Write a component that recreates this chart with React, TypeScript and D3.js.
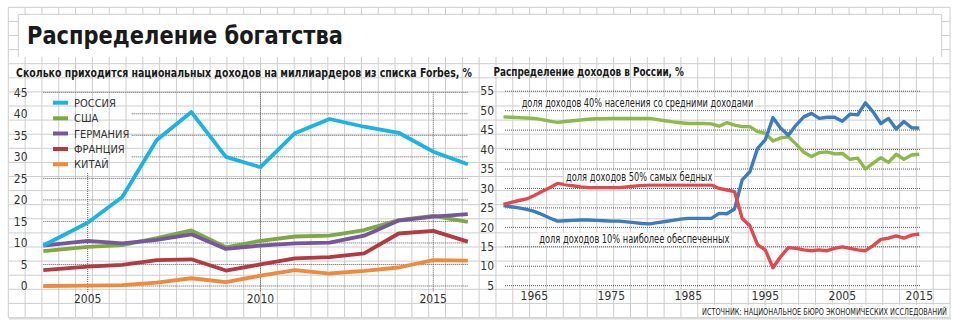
import React from "react";
import * as d3 from "d3";

// ---------- Data ----------
const forbesYears = [2004, 2005, 2006, 2007, 2008, 2009, 2010, 2011, 2012, 2013, 2014, 2015, 2016];
const russia = [9.4, 14.7, 20.7, 33.9, 40.4, 30.0, 27.6, 35.5, 38.8, 37.0, 35.6, 31.2, 28.3];
const usa = [8.1, 9.1, 9.5, 11.1, 12.9, 9.0, 10.5, 11.5, 11.7, 13.0, 15.3, 16.3, 14.9];
const germany = [9.4, 10.5, 9.9, 10.7, 12.0, 8.6, 9.4, 9.9, 10.1, 11.7, 15.2, 16.1, 16.7];
const france = [3.7, 4.5, 4.9, 6.0, 6.2, 3.6, 5.0, 6.4, 6.7, 7.6, 12.2, 12.8, 10.3];
const china = [0.0, 0.1, 0.2, 0.8, 1.8, 0.9, 2.4, 3.7, 2.9, 3.5, 4.3, 6.0, 5.9];
const forbesNames = ["РОССИЯ", "США", "ГЕРМАНИЯ", "ФРАНЦИЯ", "КИТАЙ"];
const forbesColors = ["#1ab3e6", "#7fa843", "#76569f", "#b23a40", "#ef8a3c"];
const leftYTicks = [0, 5, 10, 15, 20, 25, 30, 35, 40, 45];
const leftXTicks = [2005, 2010, 2015];

const incomeYears = d3.range(1961, 2016);
const middle40 = [
  48.4, 48.3, 48.2, 48.1, 48.0, 47.7, 47.3, 47.0, 47.2, 47.4,
  47.6, 47.8, 47.9, 47.9, 48.0, 48.0, 48.0, 48.0, 48.0, 48.0,
  47.7, 47.4, 47.1, 46.9, 46.7, 46.7, 46.7, 46.6, 46.0, 46.9,
  46.3, 45.9, 45.9, 44.6, 44.2, 42.2, 43.0, 43.3, 41.4, 39.3,
  38.2, 39.2, 39.4, 38.9, 39.0, 37.5, 37.8, 35.0, 36.5, 37.9,
  36.7, 38.8, 37.5, 38.6, 38.8,
];
const top10 = [
  25.6, 25.3, 25.0, 24.6, 24.1, 23.3, 22.4, 21.6, 21.7, 21.8,
  21.9, 21.9, 21.8, 21.7, 21.6, 21.6, 21.4, 21.2, 21.0, 20.9,
  21.2, 21.5, 21.8, 22.1, 22.3, 22.3, 22.3, 22.3, 23.6, 23.5,
  24.7, 32.2, 34.3, 40.3, 42.5, 48.2, 45.5, 43.7, 46.3, 48.4,
  49.3, 48.0, 48.3, 48.3, 47.3, 49.1, 48.9, 52.0, 49.7, 46.7,
  48.0, 45.3, 47.2, 45.6, 45.5,
];
const bottom50 = [
  25.9, 26.4, 26.9, 27.3, 28.2, 29.2, 30.2, 31.3, 31.0, 30.7,
  30.4, 30.2, 30.2, 30.2, 30.2, 30.2, 30.4, 30.6, 30.8, 30.9,
  30.9, 30.9, 30.9, 30.9, 30.9, 30.9, 30.9, 30.9, 30.0, 29.6,
  29.2, 22.3, 20.4, 15.5, 14.2, 9.6, 12.5, 14.8, 14.6, 14.2,
  14.0, 14.2, 14.0, 14.6, 15.0, 14.6, 14.2, 14.0, 15.3, 16.9,
  17.2, 17.8, 17.2, 18.0, 18.3,
];
const incomeColors = ["#8cba4a", "#3b7cc0", "#e1494f"];
const incomeLabels = [
  "доля доходов 40% населения со средними доходами",
  "доля доходов 50% самых бедных",
  "доля доходов 10% наиболее обеспеченных",
];
const rightYTicks = [5, 10, 15, 20, 25, 30, 35, 40, 45, 50, 55];
const rightXTicks = [1965, 1975, 1985, 1995, 2005, 2015];

const title = "Распределение богатства";
const leftTitle = "Сколько приходится национальных доходов на миллиардеров из списка Forbes, %";
const rightTitle = "Распределение доходов в России, %";
const source = "ИСТОЧНИК: НАЦИОНАЛЬНОЕ БЮРО ЭКОНОМИЧЕСКИХ ИССЛЕДОВАНИЙ";

const NARROW = "'Liberation Sans Narrow', 'DejaVu Sans Condensed', 'Roboto', sans-serif";
const DOT = "#5a5a5a";

export default function App() {
  // grid paper
  const gx0 = 8.3, gx1 = 950, gy0 = 7.3, gy1 = 317.5;
  const vLines = d3.range(0, 57).map((i) => gx0 + i * ((gx1 - gx0) / 56));
  const hLines = d3.range(0, 23).map((j) => gy0 + j * ((gy1 - gy0) / 22));

  // left chart scales
  const xL = d3.scaleLinear().domain([2004, 2005, 2016]).range([43.3, 87.7, 467.8]);
  const yL = d3.scaleLinear().domain([0, 45]).range([286, 92.3]);
  const lineL = d3
    .line<number>()
    .x((_, i) => xL(forbesYears[i]))
    .y((d) => yL(d));
  const forbesSeries = [russia, usa, germany, france, china];
  const drawOrder = [4, 3, 1, 2, 0];

  // right chart scales
  const xR = d3.scaleLinear().domain([1965, 2015]).range([534.3, 919.3]);
  const yR = d3.scaleLinear().domain([5, 55]).range([285.7, 91.2]);
  const lineR = d3
    .line<number>()
    .x((_, i) => xR(incomeYears[i]))
    .y((d) => yR(d));
  const incomeSeries = [middle40, top10, bottom50];

  const legendY = [102.7, 118.3, 133.5, 149, 164.3];
  const labelPos = [
    { x: 521.7, y: 107, w: 231.6 },
    { x: 566, y: 180.5, w: 146.3 },
    { x: 539.3, y: 242.5, w: 190 },
  ];

  const subSx = 0.88;
  const srcSx = 0.78;

  return (
    <svg
      width={960}
      height={327}
      style={{ position: "absolute", left: 0, top: 0, background: "#fff" }}
      fontFamily={NARROW}
    >
      <rect x={0} y={0} width={960} height={327} fill="#fff" />
      {/* grid paper */}
      <g stroke="#cdcdcd" strokeWidth={1}>
        {vLines.map((x, i) => (
          <line key={"v" + i} x1={x} x2={x} y1={gy0} y2={gy1} />
        ))}
        {hLines.map((y, i) => (
          <line key={"h" + i} x1={gx0} x2={gx1} y1={y} y2={y} />
        ))}
      </g>
      <line x1={9} x2={951} y1={318.5} y2={318.5} stroke="#dcdcdc" strokeWidth={2} />

      {/* title box */}
      <rect x={18.3} y={14.3} width={923.4} height={42.7} fill="#fff" />
      <path d="M18.3,57 V14.3 H941.7 V57" fill="none" stroke="#cdcdcd" strokeWidth={1} />
      <text
        x={27}
        y={43.5}
        fontFamily="'DejaVu Sans', sans-serif"
        fontWeight="bold"
        fontSize={24}
        fill="#1a1a1a"
        textLength={316}
        lengthAdjust="spacingAndGlyphs"
      >
        {title}
      </text>

      {/* subtitles */}
      <g transform={`translate(16,76.5) scale(${subSx},1)`}>
        <text x={0} y={0} fontSize={12.5} fontWeight="bold" fill="#1a1a1a" textLength={456 / subSx} lengthAdjust="spacingAndGlyphs">
          {leftTitle}
        </text>
      </g>
      <g transform={`translate(493.5,76) scale(${subSx},1)`}>
        <text x={0} y={0} fontSize={12.5} fontWeight="bold" fill="#1a1a1a" textLength={190.5 / subSx} lengthAdjust="spacingAndGlyphs">
          {rightTitle}
        </text>
      </g>

      {/* ---------- left chart ---------- */}
      <g stroke={DOT} strokeWidth={1} strokeDasharray="1,1">
        {leftYTicks.map((t) => {
          const start = t >= 30 && t <= 40 ? 131.7 : 43.3;
          return <line key={"ly" + t} x1={start} x2={468} y1={yL(t)} y2={yL(t)} />;
        })}
        {leftXTicks.map((t) => (
          <line key={"lx" + t} x1={xL(t)} x2={xL(t)} y1={t === 2005 ? 173 : yL(45)} y2={292} />
        ))}
      </g>
      <g fontSize={12} fill="#333" textAnchor="end">
        {leftYTicks.map((t) => (
          <text key={"lyt" + t} x={27.5} y={yL(t) + 4.2}>
            {t}
          </text>
        ))}
      </g>
      <g fontSize={12} fill="#333" textAnchor="middle">
        {leftXTicks.map((t) => (
          <text key={"lxt" + t} x={xL(t)} y={302.5}>
            {t}
          </text>
        ))}
      </g>
      {drawOrder.map((k) => (
        <path
          key={"fs" + k}
          d={lineL(forbesSeries[k]) || ""}
          fill="none"
          stroke={forbesColors[k]}
          strokeWidth={3.8}
          strokeLinejoin="round"
        />
      ))}
      {/* legend */}
      {forbesNames.map((n, i) => (
        <g key={"lg" + i}>
          <line x1={53} x2={68} y1={legendY[i]} y2={legendY[i]} stroke={forbesColors[i]} strokeWidth={4} />
          <text x={74} y={legendY[i] + 4} fontSize={11} fill="#333">
            {n}
          </text>
        </g>
      ))}

      {/* ---------- right chart ---------- */}
      <g stroke={DOT} strokeWidth={1} strokeDasharray="1,1">
        {rightYTicks.map((t) => (
          <line key={"ry" + t} x1={505} x2={921} y1={yR(t)} y2={yR(t)} />
        ))}
      </g>
      <g fontSize={12} fill="#333" textAnchor="end">
        {rightYTicks.map((t) => (
          <text key={"ryt" + t} x={494} y={yR(t) + 4.2}>
            {t}
          </text>
        ))}
      </g>
      <g fontSize={12} fill="#333" textAnchor="middle">
        {rightXTicks.map((t) => (
          <text key={"rxt" + t} x={xR(t)} y={300}>
            {t}
          </text>
        ))}
      </g>
      {incomeSeries.map((s, k) => (
        <path
          key={"is" + k}
          d={lineR(s) || ""}
          fill="none"
          stroke={incomeColors[k]}
          strokeWidth={3.4}
          strokeLinejoin="round"
        />
      ))}
      {incomeLabels.map((l, i) => (
        <g key={"il" + i}>
          <rect x={labelPos[i].x - 2} y={labelPos[i].y - 10} width={labelPos[i].w + 4} height={13} fill="#fff" />
          <text
            x={labelPos[i].x}
            y={labelPos[i].y}
            fontSize={12.5}
            fill="#222"
            textLength={labelPos[i].w}
            lengthAdjust="spacingAndGlyphs"
          >
            {l}
          </text>
        </g>
      ))}

      {/* source */}
      <rect x={700} y={305} width={249} height={12} fill="#fff" />
      <g transform={`translate(702,314.5) scale(${srcSx},1)`}>
        <text x={0} y={0} fontSize={9} fill="#222" textLength={245 / srcSx} lengthAdjust="spacingAndGlyphs">
          {source}
        </text>
      </g>
    </svg>
  );
}
